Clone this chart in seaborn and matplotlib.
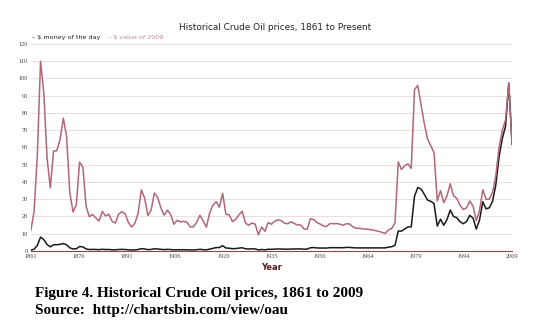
import matplotlib
matplotlib.use("Agg")
import matplotlib.pyplot as plt
import seaborn as sns
import pandas as pd
import numpy as np

years = list(range(1861, 2010))

money_of_day = [0.49, 1.05, 3.15, 8.06, 6.59, 3.74, 2.41, 3.63, 3.64, 3.86,
                4.34, 3.64, 1.83, 1.17, 1.35, 2.56, 2.42, 1.19, 0.86, 0.95,
                0.86, 0.78, 1.00, 0.84, 0.88, 0.71, 0.67, 0.88, 0.94, 0.87,
                0.67, 0.56, 0.64, 0.84, 1.36, 1.18, 0.79, 0.91, 1.29, 1.19,
                0.96, 0.80, 0.94, 0.86, 0.62, 0.73, 0.72, 0.72, 0.70, 0.61,
                0.61, 0.74, 0.95, 0.81, 0.64, 1.10, 1.56, 1.98, 2.01, 3.07,
                1.73, 1.61, 1.34, 1.43, 1.68, 1.88, 1.30, 1.17, 1.27, 1.19,
                0.65, 0.87, 0.67, 1.00, 0.97, 1.09, 1.18, 1.13, 1.02, 1.02,
                1.14, 1.19, 1.20, 1.21, 1.05, 1.12, 1.90, 1.99, 1.78, 1.71,
                1.71, 1.71, 1.93, 1.93, 1.93, 1.93, 1.90, 2.08, 2.08, 1.90,
                1.80, 1.80, 1.80, 1.80, 1.80, 1.80, 1.80, 1.80, 1.80, 1.80,
                2.24, 2.48, 3.29, 11.58, 11.53, 12.80, 13.92, 14.02, 31.61, 36.83,
                35.93, 32.97, 29.55, 28.78, 27.56, 14.43, 18.44, 14.92, 18.23, 23.73,
                20.00, 19.32, 16.97, 15.82, 17.02, 20.67, 19.09, 12.72, 17.97, 28.50,
                24.44, 25.02, 28.83, 38.27, 54.52, 65.14, 72.39, 97.26, 61.67]

value_2009 = [11.8, 22.7, 55.0, 110.0, 91.6, 53.9, 36.6, 57.9, 58.1, 64.7,
              77.0, 66.5, 33.6, 22.6, 26.8, 51.5, 48.7, 26.0, 19.9, 21.2,
              19.2, 17.4, 22.9, 20.3, 21.3, 17.2, 16.2, 21.3, 22.8, 21.6,
              16.6, 13.9, 16.0, 21.9, 35.4, 30.7, 20.6, 23.7, 33.6, 31.0,
              25.0, 20.8, 23.7, 21.2, 15.5, 17.8, 16.9, 17.2, 16.7, 14.0,
              14.0, 16.6, 20.7, 17.6, 13.8, 22.0, 26.5, 28.6, 25.4, 33.4,
              21.2, 21.0, 17.1, 18.3, 20.9, 23.1, 16.3, 14.9, 16.2, 15.6,
              9.4, 13.9, 11.4, 16.5, 15.5, 17.3, 18.0, 17.6, 16.1, 15.8,
              16.9, 16.0, 15.1, 15.1, 12.8, 12.6, 18.7, 18.2, 16.5, 15.6,
              14.5, 14.2, 15.9, 15.8, 15.9, 15.6, 14.9, 15.8, 15.7, 14.1,
              13.2, 13.1, 12.9, 12.7, 12.5, 12.2, 11.8, 11.4, 10.8, 10.2,
              12.2, 13.1, 16.3, 51.7, 47.2, 49.5, 50.5, 47.9, 93.5, 96.0,
              85.0, 74.0, 65.0, 61.0, 57.0, 29.0, 35.0, 28.0, 32.0, 39.0,
              32.0, 30.5, 26.5, 24.0, 25.0, 29.0, 26.0, 17.5, 23.5, 35.5,
              30.0, 30.0, 34.0, 43.5, 60.0, 70.0, 76.0, 97.5, 61.7]

series_names = ["$ money of the day", "$ value of 2009"]
tick_labels = ["1861", "1876", "1891", "1906", "1920", "1935", "1950",
               "1964", "1979", "1994", "2009"]
y_ticks = list(range(0, 130, 10))

df = pd.DataFrame({
    "Year": years * 2,
    "Price": money_of_day + value_2009,
    "Series": [series_names[0]] * len(years) + [series_names[1]] * len(years),
})

sns.set_theme(style="white")
plt.rcParams["font.family"] = ["DejaVu Sans"]

fig = plt.figure(figsize=(5.5, 3.22), dpi=100)
ax = fig.add_axes([0.056, 0.2205, 0.875, 0.643])

pink = "#b06878"
palette = {series_names[0]: "#1a1a1a", series_names[1]: pink}
sns.lineplot(data=df, x="Year", y="Price", hue="Series", palette=palette,
             linewidth=1.1, ax=ax, legend=False)
for line in ax.get_lines():
    if line.get_color() == pink:
        line.set_zorder(3)

ax.set_xlim(1861, 2009)
ax.set_ylim(0, 120)
ax.set_yticks(y_ticks)
ax.set_yticklabels([str(v) for v in y_ticks], fontsize=4.5, color="#444444",
                   family="Liberation Serif")
xt = np.linspace(1861, 2009, len(tick_labels))
ax.set_xticks(xt)
ax.set_xticklabels(tick_labels, fontsize=4.5, color="#444444", family="Liberation Serif")
ax.tick_params(axis="both", length=0, pad=2)
for y in y_ticks[1:]:
    ax.axhline(y, color="#eedde2", linewidth=0.7, zorder=0)
for s in ["top", "right", "left"]:
    ax.spines[s].set_visible(False)
ax.spines["bottom"].set_color("#8a4a4a")
ax.spines["bottom"].set_linewidth(0.8)
ax.set_ylabel("")
ax.set_xlabel("Year", fontsize=6, fontweight="bold", color="#5a1e1e", labelpad=3)

fig.text(0.5, 0.915, "Historical Crude Oil prices, 1861 to Present",
         ha="center", va="center", fontsize=6.4, color="#222222")

# legend
fig.text(0.059, 0.882, "\u2013 $ money of the day", ha="left", va="center",
         fontsize=4.6, color="#222222")
fig.text(0.196, 0.882, "\u2013 $ value of 2009", ha="left", va="center",
         fontsize=4.6, color="#c08a95")

fig.text(0.064, 0.088, "Figure 4. Historical Crude Oil prices, 1861 to 2009",
         ha="left", va="center", fontsize=11, fontweight="bold",
         family="Liberation Serif", color="black")
fig.text(0.064, 0.036, "Source:  http://chartsbin.com/view/oau",
         ha="left", va="center", fontsize=11, fontweight="bold",
         family="Liberation Serif", color="black")

fig.savefig("out.png", dpi=100)
